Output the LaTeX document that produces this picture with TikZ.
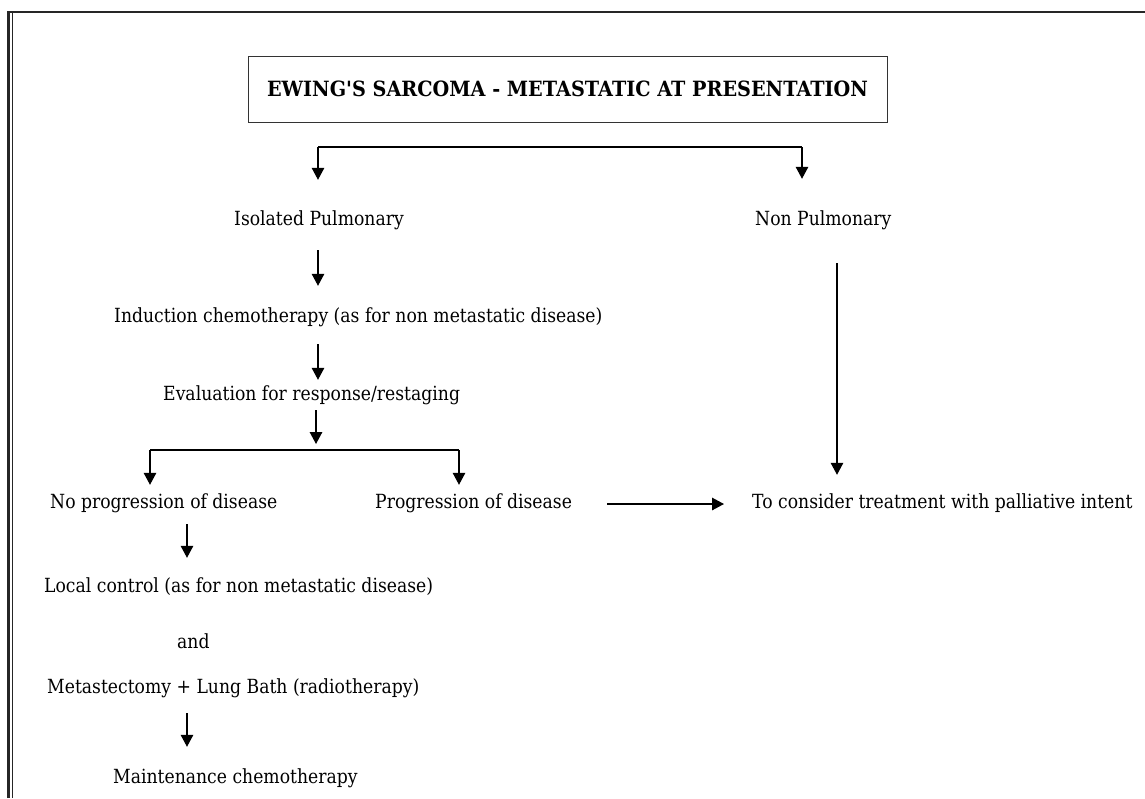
\documentclass[tikz,border=0pt]{standalone}
\usepackage{fontspec}
\setmainfont{DejaVu Serif}[FakeStretch=0.883]
\newfontfamily\headfont{DejaVu Serif}[FakeStretch=0.915]
\usetikzlibrary{arrows.meta}
\begin{document}
\begin{tikzpicture}[x=1pt,y=-1pt,
  txt/.style={inner sep=0pt,anchor=west,text height=13pt,text depth=4pt,
              font=\fontsize{19.5}{23}\selectfont},
  arr/.style={line width=1.4pt,-{Triangle[length=12pt,width=12.5pt]}},
  bar/.style={line width=1.4pt},
  frameline/.style={line width=1.4pt,black!85}]
\useasboundingbox (0,0) rectangle (1145,798);
% page frame: heavy top rule, doubled left rule
\draw[frameline,line width=2.6pt] (8.5,798) -- (8.5,12) -- (1145,12);
\draw[frameline] (12.5,798) -- (12.5,13.3);
% title box
\node[draw,line width=1pt,black!80,text=black,minimum width=639pt,minimum height=66pt,inner sep=0pt,
      font=\headfont\fontsize{21}{25}\selectfont\bfseries] (title) at (567.5,89)
      {EWING'S SARCOMA - METASTATIC AT PRESENTATION};
% first split
\node[txt] (iso) at (234,221) {Isolated Pulmonary};
\node[txt] (non) at (755,221) {Non Pulmonary};
\coordinate (bl) at (318,147);
\coordinate (br) at (802,147);
\draw[bar] (bl) -- (br);
\draw[arr,shorten >=32.5pt] (bl) -- (bl |- iso.north);
\draw[arr,shorten >=33.5pt] (br) -- (br |- non.north);
% pulmonary branch
\node[txt] (ind) at (114,318) {Induction chemotherapy (as for non metastatic disease)};
\node[txt] (eval) at (163,396) {Evaluation for response/restaging};
\draw[arr,shorten <=20.5pt,shorten >=23.5pt] (bl |- iso.south) -- (bl |- ind.north);
\draw[arr,shorten <=17.5pt,shorten >=7.5pt] (bl |- ind.south) -- (bl |- eval.north);
% second split
\node[txt] (nop) at (50,504) {No progression of disease};
\node[txt] (prog) at (375,504) {Progression of disease};
\node[txt] (pall) at (752,504) {To consider treatment with palliative intent};
\coordinate (split) at (316,450);
\coordinate (sl) at (150,450);
\coordinate (sr) at (459,450);
\draw[arr,shorten <=5.5pt,shorten >=6pt] (split |- eval.south) -- (split);
\draw[bar] (sl) -- (sr);
\draw[arr,shorten >=10.5pt] (sl) -- (sl |- nop.north);
\draw[arr,shorten >=10.5pt] (sr) -- (sr |- prog.north);
\draw[arr,shorten <=35pt,shorten >=28pt] (prog.east) -- (pall.west);
\coordinate (nx) at (837,0);
\draw[arr,shorten <=33.5pt,shorten >=20.5pt] (nx |- non.south) -- (nx |- pall.north);
% continuation after no progression
\node[txt] (loc) at (44,588) {Local control (as for non metastatic disease)};
\node[txt] (and) at (177,644) {and};
\node[txt] (met) at (47,689) {Metastectomy + Lung Bath (radiotherapy)};
\node[txt] (mnt) at (113,779) {Maintenance chemotherapy};
\coordinate (lx) at (187,0);
\draw[arr,shorten <=11.5pt,shorten >=21.5pt] (lx |- nop.south) -- (lx |- loc.north);
\draw[arr,shorten <=15.5pt,shorten >=23.5pt] (lx |- met.south) -- (lx |- mnt.north);
\end{tikzpicture}
\end{document}
